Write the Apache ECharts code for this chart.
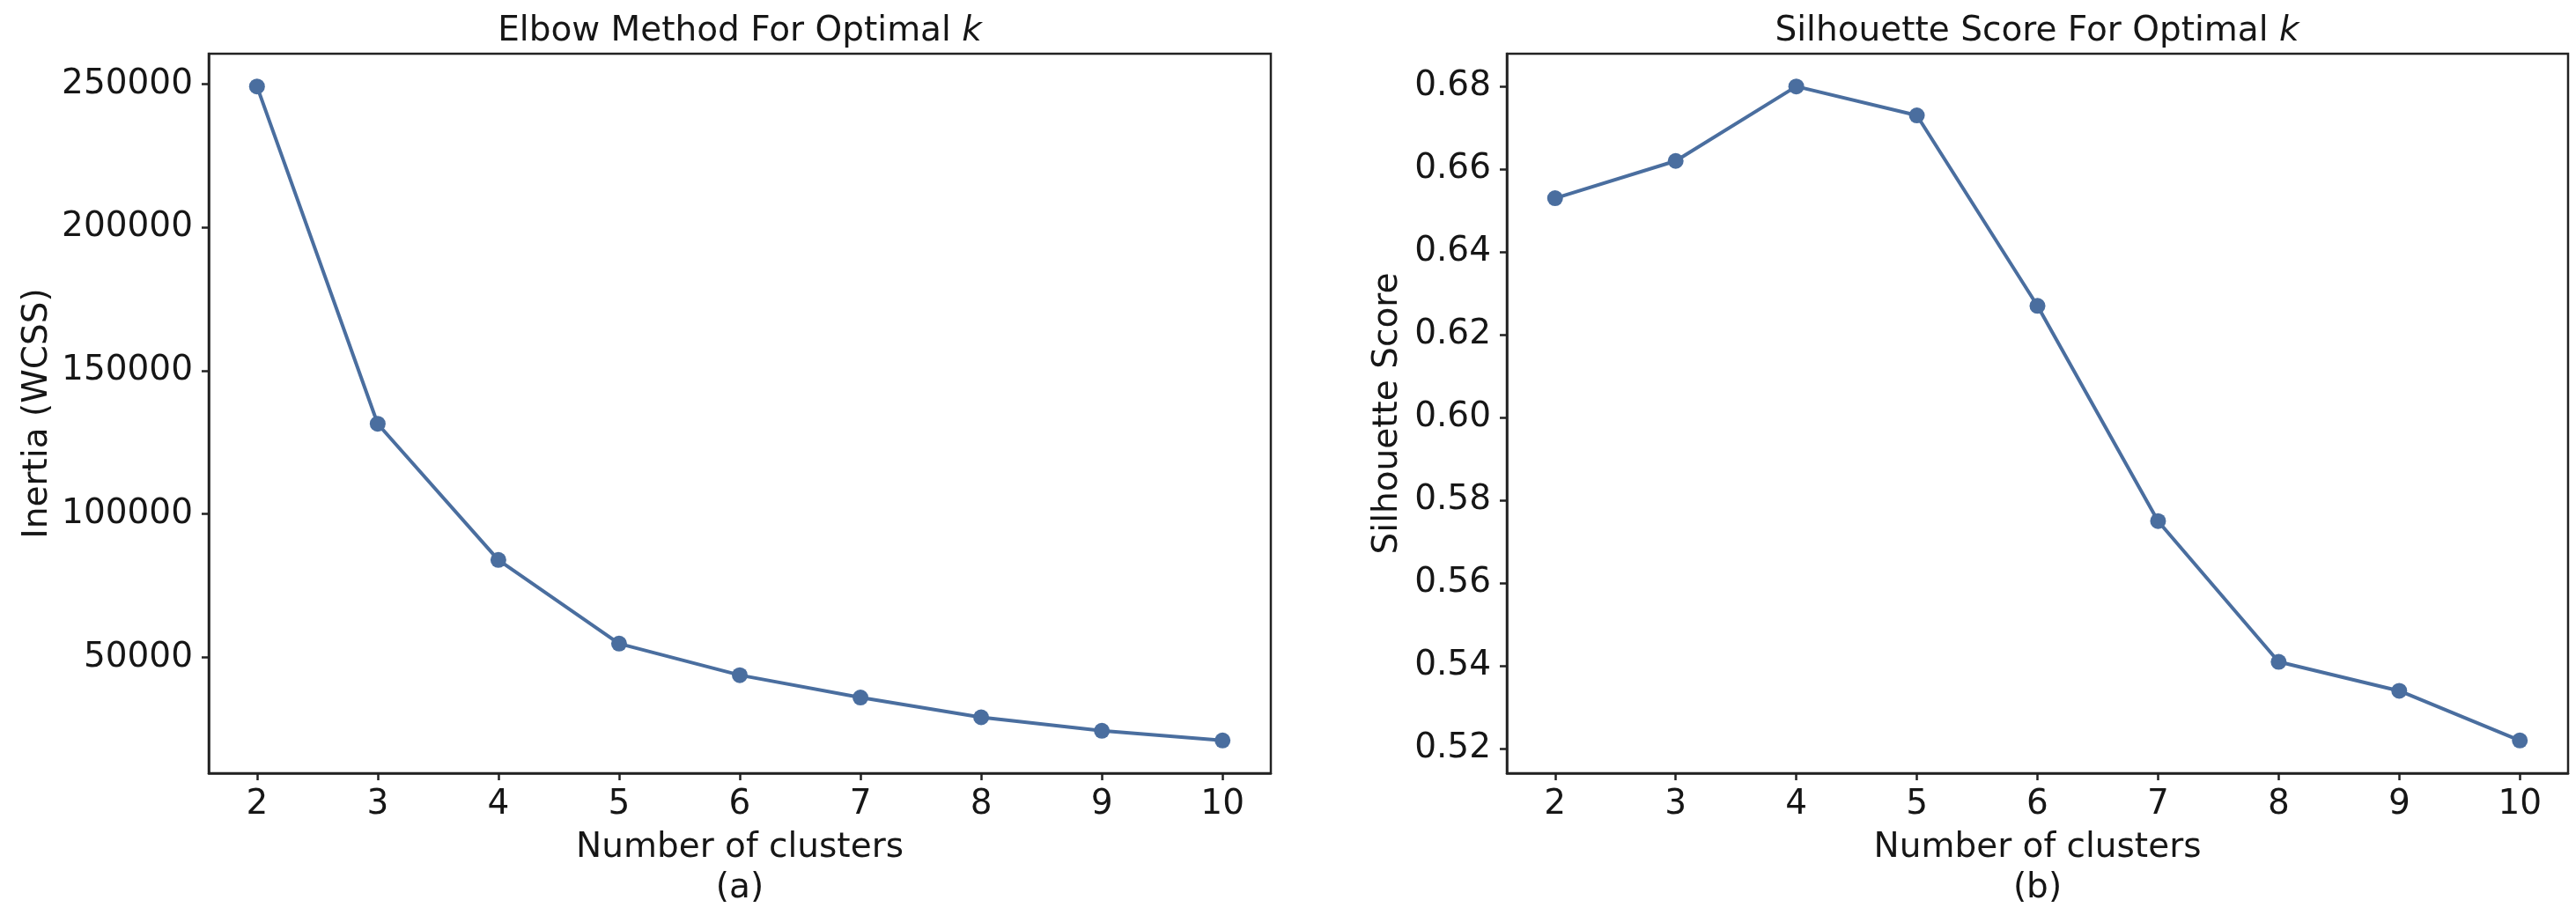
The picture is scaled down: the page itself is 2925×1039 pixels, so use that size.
<!DOCTYPE html>
<html><head><meta charset="utf-8">
<script src="https://cdn.jsdelivr.net/npm/echarts@6/dist/echarts.min.js"></script>
<style>html,body{margin:0;padding:0;background:#fff}#c{width:2925px;height:1039px}</style>
</head><body><div id="c"></div>
<script>
// ---- data ----
const clusters = [2, 3, 4, 5, 6, 7, 8, 9, 10];
const inertia = [249200, 131500, 84000, 54800, 43800, 36000, 29100, 24400, 21000];
const silhouette = [0.653, 0.662, 0.680, 0.673, 0.627, 0.575, 0.541, 0.534, 0.522];
const xTicks = [2, 3, 4, 5, 6, 7, 8, 9, 10];
const inertiaTicks = [50000, 100000, 150000, 200000, 250000];
const silhouetteTicks = [0.52, 0.54, 0.56, 0.58, 0.60, 0.62, 0.64, 0.66, 0.68];
const titles = ['Elbow Method For Optimal {k|k}', 'Silhouette Score For Optimal {k|k}'];
const yNames = ['Inertia (WCSS)', 'Silhouette Score'];
const xName = 'Number of clusters';
const panelTags = ['(a)', '(b)'];

// ---- styling ----
const FONT = 'DejaVu Sans';
const TXT = '#161616';
const AX = '#222';
const LINE = '#4a6e9f';
const FS = 39;

function pad(arr) { const lo = Math.min(...arr), hi = Math.max(...arr), p = (hi - lo) * 0.05; return [lo - p, hi + p]; }
const xr = pad(clusters);
const y0 = pad(inertia);
const y1 = pad(silhouette);

const grids = [
  { left: 237, right: 1482, top: 61, bottom: 161 },
  { left: 1711, right: 9, top: 61, bottom: 161 }
];

function xAxis(i) {
  return {
    type: 'value', gridIndex: i, min: xr[0], max: xr[1],
    name: xName + '\n' + panelTags[i], nameLocation: 'middle', nameGap: 62,
    nameTextStyle: { fontFamily: FONT, fontSize: FS, color: TXT, lineHeight: 46 },
    axisLine: { show: true, onZero: false, lineStyle: { color: AX, width: 2.5 } },
    axisTick: { show: true, inside: false, length: 8, customValues: xTicks, lineStyle: { color: AX, width: 2.5 } },
    axisLabel: { customValues: xTicks, margin: 16, fontFamily: FONT, fontSize: FS, color: TXT, formatter: v => String(v) },
    splitLine: { show: false }
  };
}
function yAxis(i, r, ticks, fmt, gap) {
  return {
    type: 'value', gridIndex: i, min: r[0], max: r[1],
    name: yNames[i], nameLocation: 'middle', nameGap: gap,
    nameTextStyle: { fontFamily: FONT, fontSize: FS, color: TXT },
    axisLine: { show: true, onZero: false, lineStyle: { color: AX, width: 2.5 } },
    axisTick: { show: true, inside: false, length: 8, customValues: ticks, lineStyle: { color: AX, width: 2.5 } },
    axisLabel: { customValues: ticks, margin: 18, fontFamily: FONT, fontSize: FS, color: TXT, formatter: fmt },
    splitLine: { show: false }
  };
}

const titleStyle = { fontFamily: FONT, fontSize: FS, color: TXT, fontWeight: 'normal', rich: { k: { fontFamily: FONT, fontSize: FS, color: TXT, fontStyle: 'italic' } } };

const option = {
  animation: false,
  backgroundColor: '#fff',
  title: [
    { text: titles[0], left: 840, top: 16, padding: 0, textAlign: 'center', textStyle: titleStyle },
    { text: titles[1], left: 2313, top: 16, padding: 0, textAlign: 'center', textStyle: titleStyle }
  ],
  grid: grids.map(g => Object.assign({ show: true, borderColor: AX, borderWidth: 2.5, backgroundColor: 'transparent' }, g)),
  xAxis: [xAxis(0), xAxis(1)],
  yAxis: [
    yAxis(0, y0, inertiaTicks, v => String(Math.round(v)), 175),
    yAxis(1, y1, silhouetteTicks, v => v.toFixed(2), 116)
  ],
  series: [
    { type: 'line', xAxisIndex: 0, yAxisIndex: 0, data: clusters.map((c, j) => [c, inertia[j]]),
      symbol: 'circle', symbolSize: 18, lineStyle: { color: LINE, width: 4 }, itemStyle: { color: LINE } },
    { type: 'line', xAxisIndex: 1, yAxisIndex: 1, data: clusters.map((c, j) => [c, silhouette[j]]),
      symbol: 'circle', symbolSize: 18, lineStyle: { color: LINE, width: 4 }, itemStyle: { color: LINE } }
  ]
};
const chart = echarts.init(document.getElementById('c'), null, { renderer: 'canvas' });
chart.setOption(option);
</script></body></html>
